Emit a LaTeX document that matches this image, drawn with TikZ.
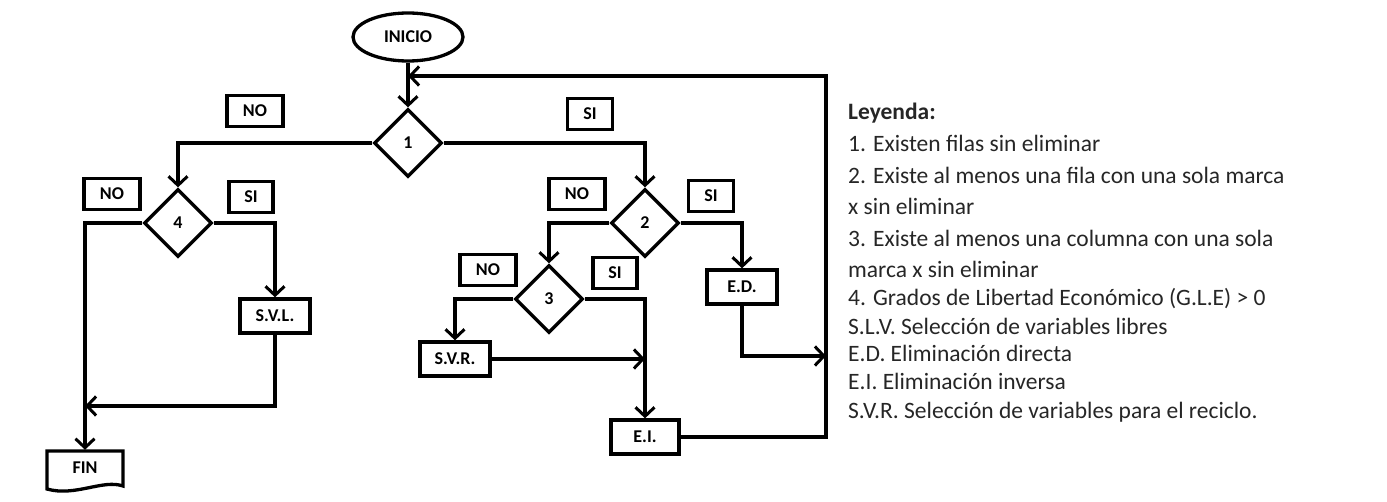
\documentclass[tikz,border=0pt]{standalone}
\usepackage{fontspec}
\setmainfont{Carlito}
\usetikzlibrary{shapes.geometric,arrows.meta}
\begin{document}
\begin{tikzpicture}[x=1pt,y=-1pt,
  every node/.style={font=\fontsize{18}{20}\selectfont\bfseries},
  conn/.style={line width=3.3pt,line join=miter},
  arr/.style={conn,-{Straight Barb[length=9pt,width=19pt,line width=3pt]}},
  dec/.style={draw,line width=3.3pt,diamond,minimum size=68pt,inner sep=0pt},
  procbox/.style={draw,line width=3.3pt,rectangle,minimum height=34pt,inner sep=2pt},
  lab/.style={draw,line width=3.3pt,rectangle,minimum height=31pt,inner sep=2pt},
  leg/.style={anchor=base west,inner sep=0pt,text=black!85,font=\fontsize{23.5}{26}\selectfont}
]
\useasboundingbox (0,0) rectangle (1387,502);
% nodes
\node[draw,line width=3.3pt,ellipse,minimum width=110pt,minimum height=48pt,inner sep=0pt] (ini) at (408,37) {INICIO};
\node[dec] (d1) at (408,143) {1};
\node[dec] (d4) at (178,223) {4};
\node[dec] (d2) at (645,223) {2};
\node[dec] (d3) at (549,299) {3};
\node[procbox,minimum width=70pt] (svl) at (275,316) {S.V.L.};
\node[procbox,minimum width=70pt] (svr) at (455,359) {S.V.R.};
\node[procbox,minimum width=70pt] (ed) at (742,287) {E.D.};
\node[procbox,minimum width=68pt] (ei) at (645,437) {E.I.};
\node[minimum width=76pt,minimum height=36pt,inner sep=0pt] (fin) at (85,468) {FIN};
\draw[line width=3.3pt,line join=miter] (47,451) -- (123,451) -- (123,486) .. controls (103,479) and (75,497) .. (47,489) -- cycle;
% labels
\node[lab,minimum width=56pt] (no1) at (255,111) {NO};
\node[lab,minimum width=45pt] (si1) at (590,114) {SI};
\node[lab,minimum width=56pt] (no4) at (112,194) {NO};
\node[lab,minimum width=44pt] (si4) at (251,197) {SI};
\node[lab,minimum width=56pt] (no2) at (577,194) {NO};
\node[lab,minimum width=45pt] (si2) at (711,196) {SI};
\node[lab,minimum width=56pt] (no3) at (488,270) {NO};
\node[lab,minimum width=44pt] (si3) at (615,273) {SI};
% junction coordinates
\coordinate (rt) at (826,76);
\coordinate (lp) at (408,76);
\coordinate (j1) at (85,406);
\coordinate (j2) at (826,356);
% connectors
\draw[arr] (ini) -- (d1);
\draw[arr] (d1.west) -| (d4.north);
\draw[arr] (d1.east) -| (d2.north);
\draw[arr] (d4.west) -| (fin.north);
\draw[arr] (d4.east) -| (svl.north);
\draw[arr] (svl.south) |- (j1);
\draw[arr] (d2.west) -| (d3.north);
\draw[arr] (d2.east) -| (ed.north);
\draw[arr] (d3.west) -| (svr.north);
\draw[arr] (d3.east) -| (ei.north);
\draw[arr] (svr.east) -- (svr.east -| ei.north);
\draw[arr] (ed.south) |- (j2);
\draw[arr] (ei.east) -| (rt) -- (lp);
% legend
\node[leg,font=\fontsize{23.5}{26}\selectfont\bfseries] (l0) at (848,120) {Leyenda:};
\node[leg] (l1) at (848,152) {1. Existen filas sin eliminar};
\node[leg] (l2) at (848,184) {2. Existe al menos una fila con una sola marca};
\node[leg] (l3) at (848,215) {x sin eliminar};
\node[leg] (l4) at (848,247) {3. Existe al menos una columna con una sola};
\node[leg] (l5) at (848,278) {marca x sin eliminar};
\node[leg] (l6) at (848,306) {4. Grados de Libertad Económico (G.L.E) > 0};
\node[leg] (l7) at (848,335) {S.L.V. Selección de variables libres};
\node[leg] (l8) at (848,362) {E.D. Eliminación directa};
\node[leg] (l9) at (848,390) {E.I. Eliminación inversa};
\node[leg] (l10) at (848,418) {S.V.R. Selección de variables para el reciclo.};
\end{tikzpicture}
\end{document}
